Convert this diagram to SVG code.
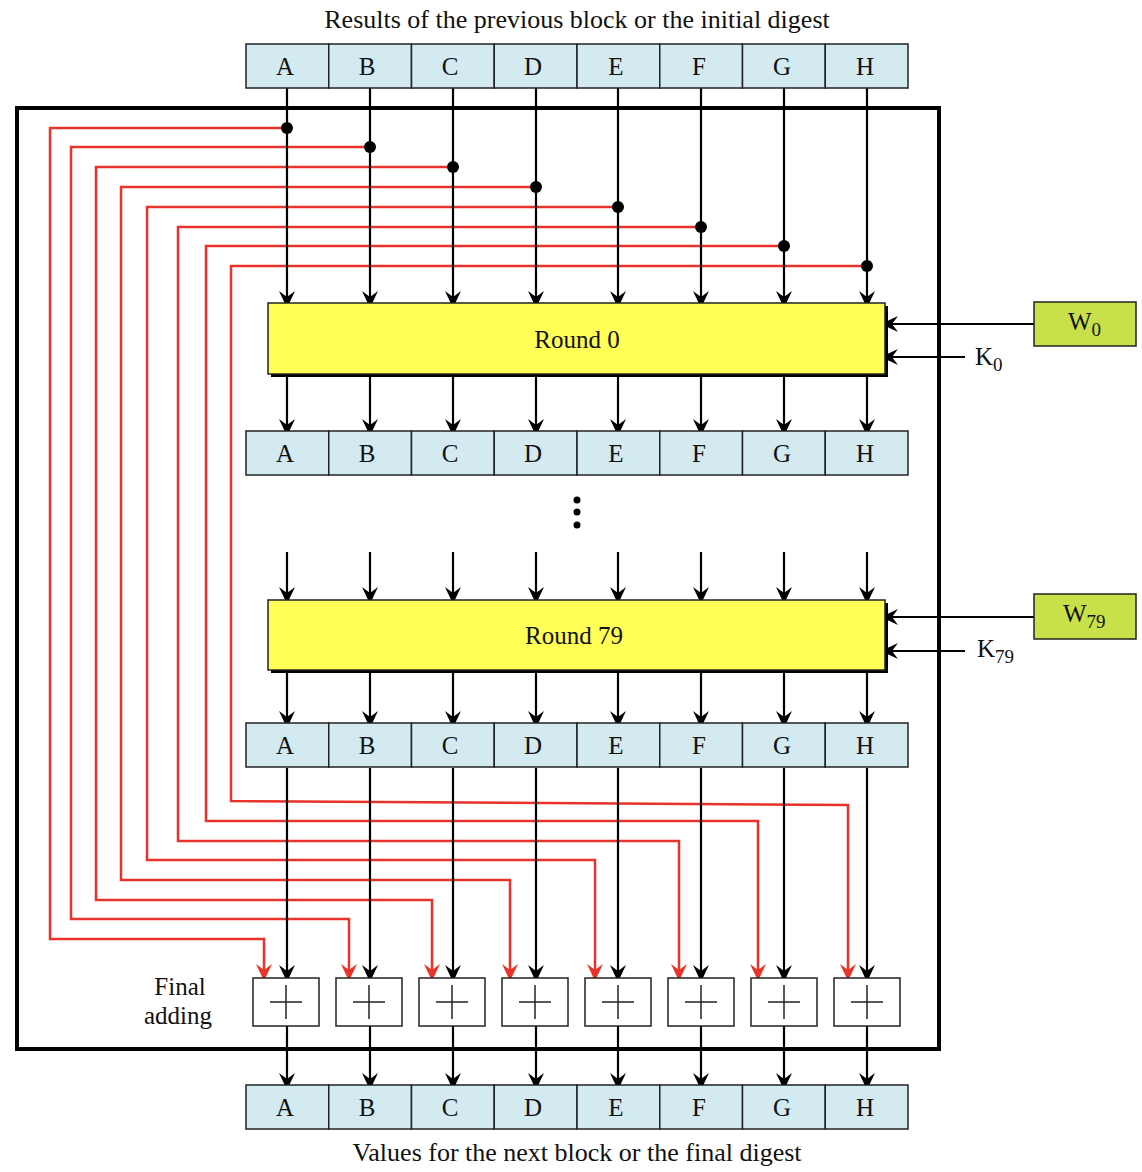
<svg xmlns="http://www.w3.org/2000/svg" width="1142" height="1172" viewBox="0 0 1142 1172">
<style>
.t{font-family:"Liberation Serif","Times New Roman",serif;fill:#111;}
.cell{fill:#d3eaf1;stroke:#222;stroke-width:1.5;}
.lt{font-size:25px;text-anchor:middle;}
.blk{stroke:#000;stroke-width:2.2;fill:none;}
.red{stroke:#e8322a;stroke-width:2.5;fill:none;}
.rnd{fill:#ffff55;stroke:#222;stroke-width:1.5;}
.wbox{fill:#c8e04a;stroke:#222;stroke-width:1.5;}
.add{fill:#fff;stroke:#222;stroke-width:1.5;}
.plus{stroke:#222;stroke-width:1.5;}
</style>
<defs>
<marker id="ab" viewBox="-20 -10 22 20" refX="-5" refY="0" markerWidth="22" markerHeight="20" markerUnits="userSpaceOnUse" orient="auto">
<path d="M0,0 L-17,-8 L-11,0 L-17,8 Z" fill="#000"/>
</marker>
<marker id="ar" viewBox="-20 -10 22 20" refX="-5" refY="0" markerWidth="22" markerHeight="20" markerUnits="userSpaceOnUse" orient="auto">
<path d="M0,0 L-17,-8 L-11,0 L-17,8 Z" fill="#e8322a"/>
</marker>
<g id="row">
<rect class="cell" x="246" y="0" width="82.75" height="44"/>
<rect class="cell" x="328.75" y="0" width="82.75" height="44"/>
<rect class="cell" x="411.5" y="0" width="82.75" height="44"/>
<rect class="cell" x="494.25" y="0" width="82.75" height="44"/>
<rect class="cell" x="577" y="0" width="82.75" height="44"/>
<rect class="cell" x="659.75" y="0" width="82.75" height="44"/>
<rect class="cell" x="742.5" y="0" width="82.75" height="44"/>
<rect class="cell" x="825.25" y="0" width="82.75" height="44"/>
<g class="t lt">
<text x="285" y="31">A</text><text x="367" y="31">B</text><text x="450" y="31">C</text><text x="533" y="31">D</text>
<text x="616" y="31">E</text><text x="699" y="31">F</text><text x="782" y="31">G</text><text x="865" y="31">H</text>
</g>
</g>
<g id="adder">
<rect class="add" x="-33" y="0" width="66" height="48"/>
<line class="plus" x1="-16" y1="24" x2="16" y2="24"/>
<line class="plus" x1="0" y1="7" x2="0" y2="41"/>
</g>
</defs>

<rect id="frame" x="17" y="108" width="922" height="941" fill="none" stroke="#000" stroke-width="4"/>

<text class="t" x="577" y="28" font-size="26" text-anchor="middle">Results of the previous block or the initial digest</text>
<text class="t" x="577" y="1161" font-size="26" text-anchor="middle">Values for the next block or the final digest</text>

<g id="connectors">
<g class="red">
<polyline points="287,128 50,128 50,939 264,939 264,976" marker-end="url(#ar)"/>
<polyline points="370,147 71,147 71,919 349,919 349,976" marker-end="url(#ar)"/>
<polyline points="453,167 96,167 96,900 432,900 432,976" marker-end="url(#ar)"/>
<polyline points="536,187 121,187 121,880 510,880 510,976" marker-end="url(#ar)"/>
<polyline points="618,207 147,207 147,860 595,860 595,976" marker-end="url(#ar)"/>
<polyline points="701,227 178,227 178,841 679,841 679,976" marker-end="url(#ar)"/>
<polyline points="784,246 206,246 206,821 758,821 758,976" marker-end="url(#ar)"/>
<polyline points="867,266 231,266 231,801 848,805 848,976" marker-end="url(#ar)"/>
</g>
<g fill="#000">
<circle cx="287" cy="128" r="6"/><circle cx="370" cy="147" r="6"/><circle cx="453" cy="167" r="6"/><circle cx="536" cy="187" r="6"/>
<circle cx="618" cy="207" r="6"/><circle cx="701" cy="227" r="6"/><circle cx="784" cy="246" r="6"/><circle cx="867" cy="266" r="6"/>
</g>
<g class="blk" marker-end="url(#ab)">
<line x1="287" y1="88" x2="287" y2="303"/><line x1="370" y1="88" x2="370" y2="303"/><line x1="453" y1="88" x2="453" y2="303"/><line x1="536" y1="88" x2="536" y2="303"/>
<line x1="618" y1="88" x2="618" y2="303"/><line x1="701" y1="88" x2="701" y2="303"/><line x1="784" y1="88" x2="784" y2="303"/><line x1="867" y1="88" x2="867" y2="303"/>

<line x1="287" y1="376" x2="287" y2="431"/><line x1="370" y1="376" x2="370" y2="431"/><line x1="453" y1="376" x2="453" y2="431"/><line x1="536" y1="376" x2="536" y2="431"/>
<line x1="618" y1="376" x2="618" y2="431"/><line x1="701" y1="376" x2="701" y2="431"/><line x1="784" y1="376" x2="784" y2="431"/><line x1="867" y1="376" x2="867" y2="431"/>

<line x1="287" y1="552" x2="287" y2="599"/><line x1="370" y1="552" x2="370" y2="599"/><line x1="453" y1="552" x2="453" y2="599"/><line x1="536" y1="552" x2="536" y2="599"/>
<line x1="618" y1="552" x2="618" y2="599"/><line x1="701" y1="552" x2="701" y2="599"/><line x1="784" y1="552" x2="784" y2="599"/><line x1="867" y1="552" x2="867" y2="599"/>

<line x1="287" y1="672" x2="287" y2="723"/><line x1="370" y1="672" x2="370" y2="723"/><line x1="453" y1="672" x2="453" y2="723"/><line x1="536" y1="672" x2="536" y2="723"/>
<line x1="618" y1="672" x2="618" y2="723"/><line x1="701" y1="672" x2="701" y2="723"/><line x1="784" y1="672" x2="784" y2="723"/><line x1="867" y1="672" x2="867" y2="723"/>

<line x1="287" y1="768" x2="287" y2="977"/><line x1="370" y1="768" x2="370" y2="977"/><line x1="453" y1="768" x2="453" y2="977"/><line x1="536" y1="768" x2="536" y2="977"/>
<line x1="618" y1="768" x2="618" y2="977"/><line x1="701" y1="768" x2="701" y2="977"/><line x1="784" y1="768" x2="784" y2="977"/><line x1="867" y1="768" x2="867" y2="977"/>

<line x1="287" y1="1026" x2="287" y2="1085"/><line x1="370" y1="1026" x2="370" y2="1085"/><line x1="453" y1="1026" x2="453" y2="1085"/><line x1="536" y1="1026" x2="536" y2="1085"/>
<line x1="618" y1="1026" x2="618" y2="1085"/><line x1="701" y1="1026" x2="701" y2="1085"/><line x1="784" y1="1026" x2="784" y2="1085"/><line x1="867" y1="1026" x2="867" y2="1085"/>

<line x1="1034" y1="324" x2="886" y2="324"/>
<line x1="965" y1="357" x2="886" y2="357"/>
<line x1="1034" y1="617" x2="886" y2="617"/>
<line x1="965" y1="651" x2="886" y2="651"/>
</g>
<g fill="#000">
<circle cx="577" cy="500" r="3.5"/><circle cx="577" cy="512" r="3.5"/><circle cx="577" cy="525" r="3.5"/>
</g>
</g>

<g id="reg-in"><use href="#row" y="44"/></g>
<g id="reg-r0"><use href="#row" y="431"/></g>
<g id="reg-r79"><use href="#row" y="723"/></g>
<g id="reg-out"><use href="#row" y="1085"/></g>

<g id="round0">
<rect x="271" y="306" width="617" height="71" fill="#000"/>
<rect class="rnd" x="268" y="303" width="617" height="71"/>
<text class="t" x="577" y="348" font-size="25" text-anchor="middle">Round 0</text>
</g>
<g id="round79">
<rect x="271" y="603" width="617" height="70" fill="#000"/>
<rect class="rnd" x="268" y="600" width="617" height="70"/>
<text class="t" x="574" y="644" font-size="25" text-anchor="middle">Round 79</text>
</g>

<g id="w0">
<rect class="wbox" x="1034" y="302" width="102" height="44"/>
<text class="t" x="1068" y="330" font-size="25">W<tspan font-size="19" dy="6">0</tspan></text>
</g>
<g id="k0"><text class="t" x="975" y="365" font-size="25">K<tspan font-size="19" dy="6">0</tspan></text></g>
<g id="w79">
<rect class="wbox" x="1034" y="594" width="102" height="45"/>
<text class="t" x="1063" y="622" font-size="25">W<tspan font-size="19" dy="6">79</tspan></text>
</g>
<g id="k79"><text class="t" x="977" y="657" font-size="25">K<tspan font-size="19" dy="6">79</tspan></text></g>

<g id="adders">
<use href="#adder" x="286" y="978"/><use href="#adder" x="369" y="978"/><use href="#adder" x="452" y="978"/><use href="#adder" x="535" y="978"/>
<use href="#adder" x="618" y="978"/><use href="#adder" x="701" y="978"/><use href="#adder" x="784" y="978"/><use href="#adder" x="867" y="978"/>
</g>
<g id="final-label" class="t" font-size="25" text-anchor="middle">
<text x="180" y="995">Final</text>
<text x="178" y="1024">adding</text>
</g>
</svg>
